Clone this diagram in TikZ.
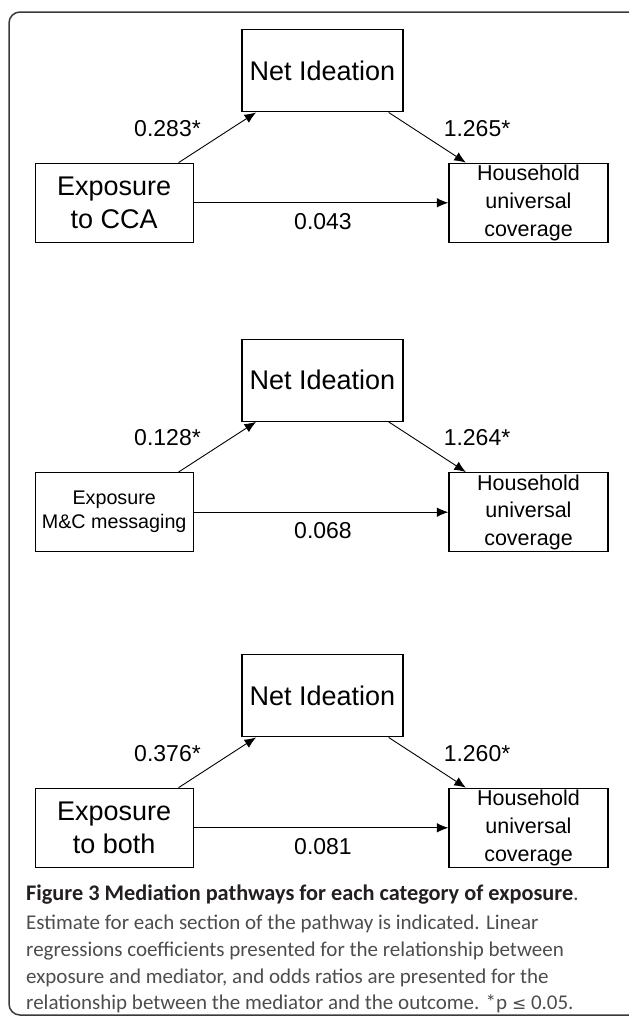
\documentclass[tikz,border=0pt]{standalone}
\usepackage{fontspec}
\setmainfont{Liberation Sans}
\newfontfamily\capfont{Carlito}
\newfontfamily\symfont{DejaVu Sans}
\usetikzlibrary{arrows.meta}

\definecolor{framegray}{HTML}{3A3A3A}
\definecolor{capgray}{HTML}{4D4D4D}
\definecolor{titlegray}{HTML}{231F20}

\begin{document}
\begin{tikzpicture}[x=1pt, y=-1pt,
  box/.style={draw=black, line width=1.3pt, inner sep=0pt, align=center},
  netbox/.style={box, minimum width=161pt, minimum height=82pt, font=\fontsize{27}{32}\selectfont},
  expobox/.style={box, minimum width=158pt, minimum height=79pt},
  housebox/.style={box, minimum width=159pt, minimum height=79pt, font=\fontsize{21.5}{27.7}\selectfont},
  coef/.style={inner sep=0pt, font=\fontsize{23}{23}\selectfont},
  arrow/.style={line width=0.9pt, -{Latex[length=11.5pt,width=9.5pt]}},
  capline/.style={anchor=base west, inner sep=0pt, text=capgray, font=\capfont\fontsize{21}{27}\selectfont}]

\useasboundingbox (0,0) rectangle (629,1018);

% --- outer frame, its right side runs off the page ---
\draw[framegray, line width=1.5pt, rounded corners=11pt] (9,12) rectangle (640,1015);

% --- one mediation triangle per kind of exposure ---
\foreach \i/\ty/\fs/\expo/\a/\b/\c in {
    1/163.3/27/{Exposure\\to CCA}/0.283*/1.265*/0.043,
    2/472.7/19.7/{Exposure\\M\&C messaging}/0.128*/1.264*/0.068,
    3/788.3/27/{Exposure\\to both}/0.376*/1.260*/0.081} {
    \pgfmathsetmacro{\ls}{1.22*\fs}
    \node[netbox] (net\i) at (322.5,\ty-92.5) {Net Ideation};
    \node[expobox, font=\fontsize{\fs}{\ls}\selectfont] (expo\i) at (114.2,\ty+39.5) {\expo};
    \node[housebox] (house\i) at (528.5,\ty+39.5) {Household\\universal\\coverage};
    % paths
    \draw[arrow] ([xshift=-15.3pt]expo\i.north east) -- ([xshift=14.7pt]net\i.south west);
    \draw[arrow] ([xshift=-15pt]net\i.south east) -- ([xshift=17.5pt]house\i.north west);
    \draw[arrow] (expo\i.east) -- (house\i.west);
    % estimates
    \node[coef] (a\i) at (167.5,\ty-35) {\a};
    \node[coef] (b\i) at (477,\ty-35) {\b};
    \node[coef] (c\i) at (323,\ty+58) {\c};
}

% --- caption ---
\node[capline, text=titlegray, font=\capfont\fontsize{22.3}{27}\selectfont] (title) at (26,900) {\bfseries Figure 3 Mediation pathways for each category of exposure\mdseries\color{capgray}.};
\node[capline] (cap1) at (26,929) {Estimate for each section of the pathway is indicated. Linear};
\node[capline] (cap2) at (26,956) {regressions coefficients presented for the relationship between};
\node[capline] (cap3) at (26,983) {exposure and mediator, and odds ratios are presented for the};
\node[capline] (cap4) at (26,1009) {relationship between the mediator and the outcome. *p {\symfont\fontsize{17}{17}\selectfont ≤} 0.05.};

\end{tikzpicture}
\end{document}
